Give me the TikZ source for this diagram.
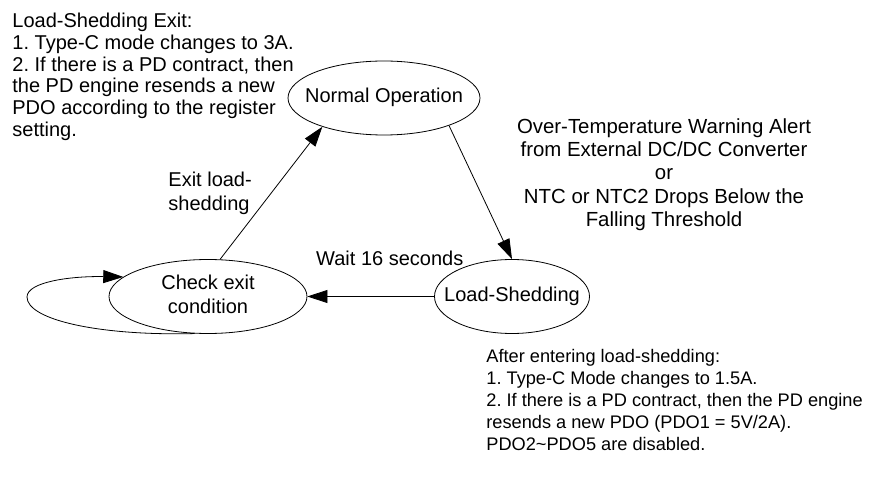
\documentclass[tikz,border=0pt]{standalone}
\usepackage{fontspec}
\setmainfont{Liberation Sans}
\usetikzlibrary{shapes.geometric, positioning, arrows.meta}
\frenchspacing
% text box of no width, so the ellipse keeps its given size
\newcommand{\statetext}[1]{\makebox[0pt]{\begin{tabular}{@{}c@{}}#1\end{tabular}}}

\begin{document}
\begin{tikzpicture}[x=1pt, y=-1pt, node distance=3cm, on grid, line width=0.8pt,
        >={Triangle[length=20pt,width=13pt]},
        opmode/.style={ellipse, draw, inner sep=0pt,
            font=\fontsize{20}{24}\selectfont},
        note/.style={inner sep=0pt, font=\fontsize{20}{21.7}\selectfont}]
        \useasboundingbox (0,0) rectangle (881,478);
        \node[opmode, minimum width=198pt, minimum height=74pt] (check) at (208,296.5) {\statetext{Check exit\\condition}};
        \node[opmode, minimum width=155pt, minimum height=74pt] (load) [right=304pt of check] {\statetext{Load-Shedding}};
        \node[opmode, minimum width=192pt, minimum height=74pt] (normal) [above right=198.5pt and 176pt of check] {\statetext{Normal Operation}};
        \path[->]
            (check.72) edge node[note, anchor=east, xshift=-19pt, align=left,
                font=\fontsize{20}{24}\selectfont] {Exit load-\\shedding} (normal.205)
            (normal.337) edge (load.north)
            (load.west) edge node[note, anchor=south, pos=0.35, yshift=30.5pt] {Wait 16 seconds} (check.east);
        \coordinate (loopleft) at (27,297);
        \draw[->] (check.250) .. controls (100,336) and (27,320) .. (loopleft)
            .. controls (27,282) and (70,276) .. (check.167);

        % notes
        \node[note, anchor=north west, align=left] (exitnote) at (12,13)
            {Load-Shedding Exit:\\1. Type-C mode changes to 3A.\\2. If there is a PD contract, then\\the PD engine resends a new\\PDO according to the register\\setting.};
        \node[note, anchor=north, align=center, font=\fontsize{20.4}{23.3}\selectfont] (alertnote) at (664,118)
            {Over-Temperature Warning Alert\\from External DC/DC Converter\\or\\NTC or NTC2 Drops Below the\\Falling Threshold};
        \node[note, anchor=north west, align=left, font=\fontsize{18.2}{22}\selectfont] (enternote) at (486,349)
            {After entering load-shedding:\\1. Type-C Mode changes to 1.5A.\\2. If there is a PD contract, then the PD engine\\resends a new PDO (PDO1 = 5V/2A).\\PDO2\textasciitilde PDO5 are disabled.};
\end{tikzpicture}
\end{document}
